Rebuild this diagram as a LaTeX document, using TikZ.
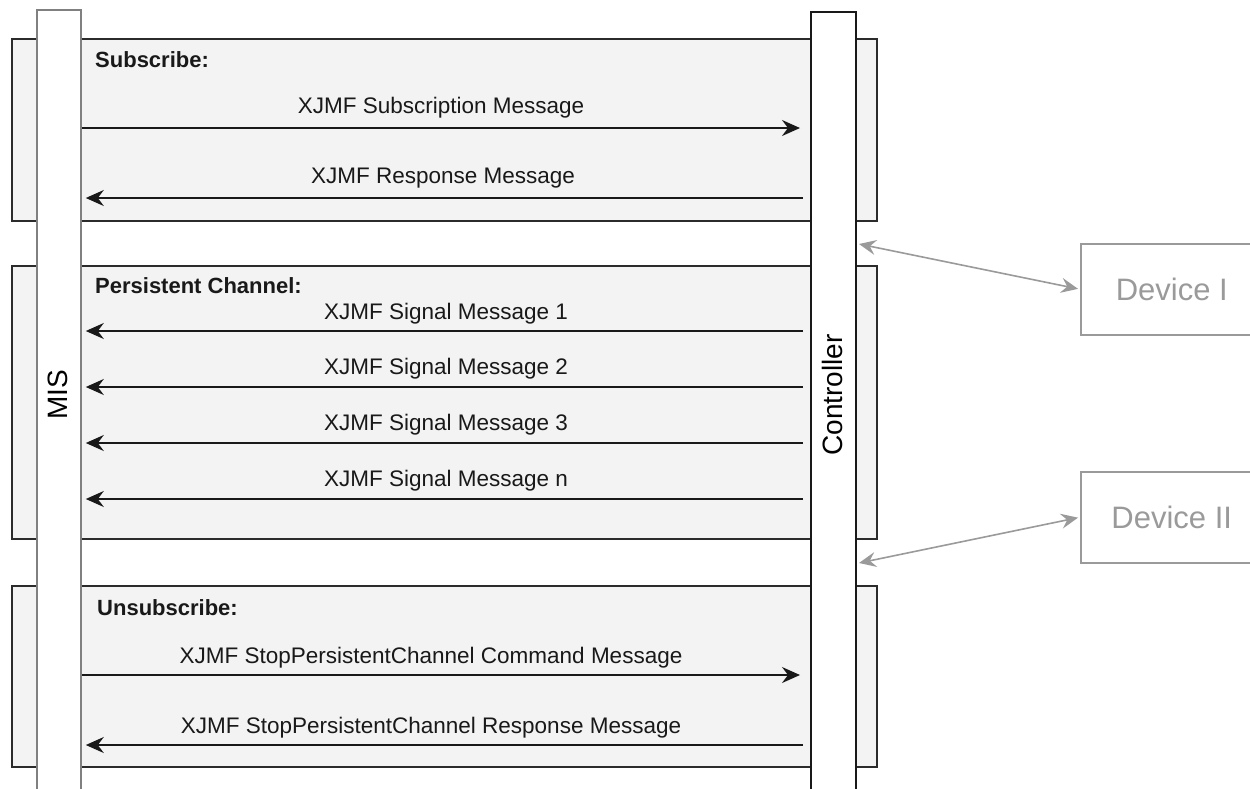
\documentclass[tikz,border=0pt]{standalone}
\usepackage{fontspec}
\setmainfont{Liberation Sans}
\usetikzlibrary{arrows.meta}
\definecolor{grpfill}{HTML}{F3F3F3}
\definecolor{devgray}{HTML}{9A9A9A}
\definecolor{misgray}{HTML}{808080}
\definecolor{grpline}{HTML}{2B2B2B}
\begin{document}
\begin{tikzpicture}[x=1pt,y=-1pt,
  grp/.style={draw=grpline, fill=grpfill, line width=1.5pt, inner sep=0pt, anchor=north west},
  life/.style={fill=white, line width=1.8pt, inner sep=0pt, anchor=north west},
  lifelbl/.style={rotate=90, font=\fontsize{28}{32}\selectfont, inner sep=0pt},
  msg/.style={line width=1.8pt, draw=black!90, -{Stealth[length=18pt,width=16pt,inset=6pt]}},
  lbl/.style={font=\fontsize{22.5}{26}\selectfont, anchor=base, inner sep=0pt, text=black!90},
  ttl/.style={font=\bfseries\fontsize{22}{26}\selectfont, anchor=base west, inner sep=0pt, text=black!90},
  dev/.style={draw=devgray, line width=1.5pt, text=devgray, font=\fontsize{31}{36}\selectfont,
    minimum width=182pt, minimum height=91pt, inner sep=0pt, anchor=north west},
  devarrow/.style={draw=devgray, line width=1.6pt, {Stealth[length=17pt,width=15pt,inset=6pt]}-{Stealth[length=17pt,width=15pt,inset=6pt]}}
]
\useasboundingbox (0,0) rectangle (1250,788);
\clip (0,0) rectangle (1250,788);

% group boxes
\node[grp, minimum width=865pt, minimum height=182pt] (gsub) at (11,38) {};
\node[grp, minimum width=865pt, minimum height=273pt] (gpc) at (11,265) {};
\node[grp, minimum width=865pt, minimum height=181pt] (gunsub) at (11,585) {};

% lifelines
\node[life, draw=misgray, minimum width=44pt, minimum height=785pt] (mis) at (36,9) {};
\node[lifelbl] (mislbl) at (58,395) {MIS};
\node[life, draw=black!90, minimum width=45pt, minimum height=782pt] (ctrl) at (810,11) {};
\node[lifelbl] (ctrllbl) at (832.5,395) {Controller};

% titles
\node[ttl] (tsub) at (95,67) {Subscribe:};
\node[ttl] (tpc) at (95,293) {Persistent Channel:};
\node[ttl] (tunsub) at (97,615) {Unsubscribe:};

% subscribe
\node[lbl] (l1) at (441,113) {XJMF Subscription Message};
\draw[msg, shorten >=10pt] (mis.east |- 0,128) -- (ctrl.west |- 0,128);
\node[lbl] (l2) at (443,183) {XJMF Response Message};
\draw[msg, shorten <=7pt, shorten >=4pt] (ctrl.west |- 0,198) -- (mis.east |- 0,198);

% persistent channel
\node[lbl] (s1) at (446,319) {XJMF Signal Message 1};
\draw[msg, shorten <=7pt, shorten >=4pt] (ctrl.west |- 0,331) -- (mis.east |- 0,331);
\node[lbl] (s2) at (446,374) {XJMF Signal Message 2};
\draw[msg, shorten <=7pt, shorten >=4pt] (ctrl.west |- 0,387) -- (mis.east |- 0,387);
\node[lbl] (s3) at (446,430) {XJMF Signal Message 3};
\draw[msg, shorten <=7pt, shorten >=4pt] (ctrl.west |- 0,443) -- (mis.east |- 0,443);
\node[lbl] (sn) at (446,486) {XJMF Signal Message n};
\draw[msg, shorten <=7pt, shorten >=4pt] (ctrl.west |- 0,499) -- (mis.east |- 0,499);

% unsubscribe
\node[lbl] (u1) at (431,663) {XJMF StopPersistentChannel Command Message};
\draw[msg, shorten >=10pt] (mis.east |- 0,675) -- (ctrl.west |- 0,675);
\node[lbl] (u2) at (431,733) {XJMF StopPersistentChannel Response Message};
\draw[msg, shorten <=7pt, shorten >=4pt] (ctrl.west |- 0,745) -- (mis.east |- 0,745);

% devices
\node[dev] (dev1) at (1080,243) {Device I};
\node[dev] (dev2) at (1080,471) {Device II};
\coordinate (c1) at (859,244);
\coordinate (c2) at (859,563);
\draw[devarrow, shorten >=2pt] (c1) -- (dev1.west);
\draw[devarrow, shorten >=2pt] (c2) -- (dev2.west);
\end{tikzpicture}
\end{document}
